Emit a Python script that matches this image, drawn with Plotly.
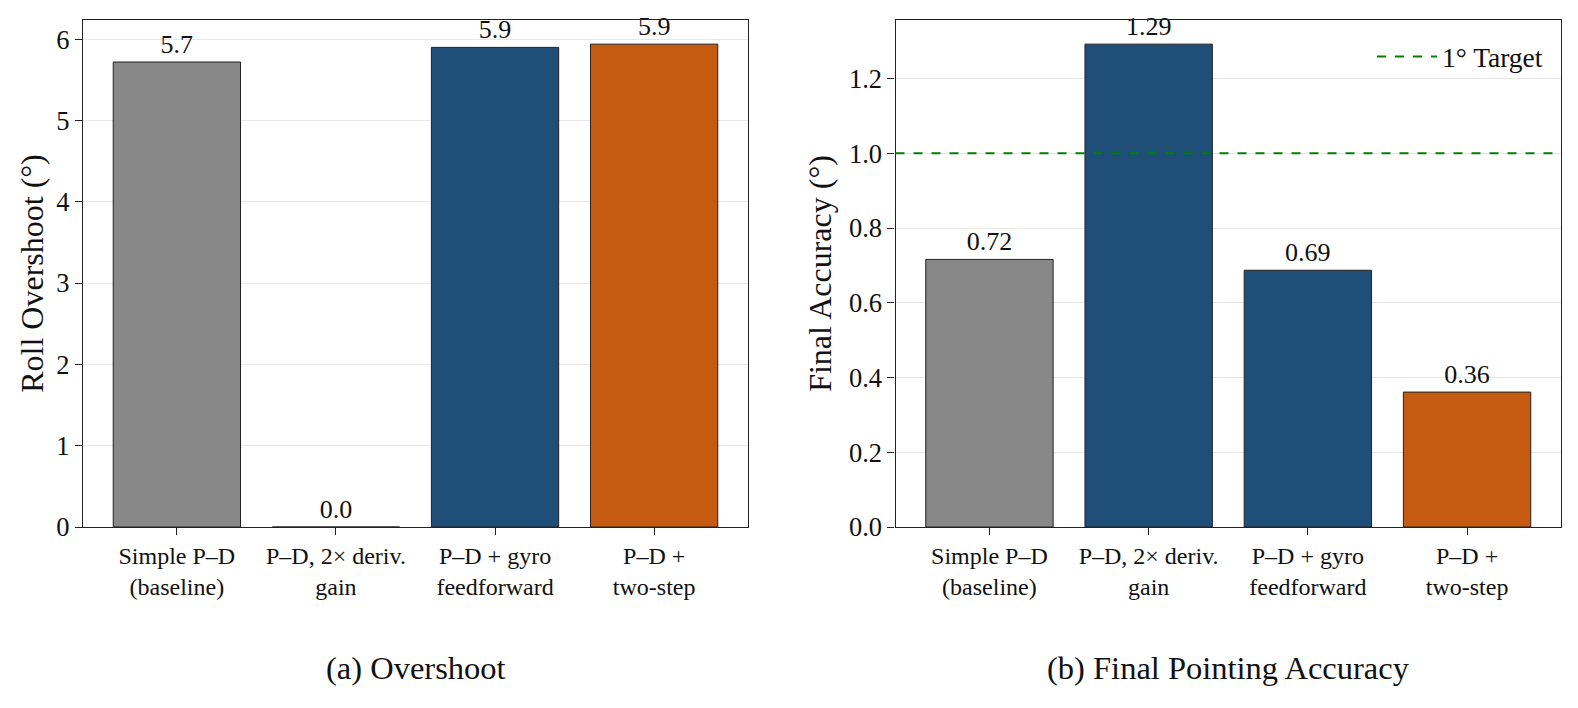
import plotly.graph_objects as go
from plotly.subplots import make_subplots

# Daten
methods = ["Simple P–D<br>(baseline)", "P–D, 2× deriv.<br>gain",
           "P–D + gyro<br>feedforward", "P–D +<br>two-step"]
overshoot = [5.72, 0.0, 5.90, 5.94]
overshoot_txt = ["5.7", "0.0", "5.9", "5.9"]
accuracy = [0.716, 1.292, 0.687, 0.361]
accuracy_txt = ["0.72", "1.29", "0.69", "0.36"]
target = 1.0

colors_a = ["#888888", "#1f4e79", "#1f4e79", "#c55a11"]
colors_b = ["#888888", "#1f4e79", "#1f4e79", "#c55a11"]

FONT = "Liberation Serif"
TXT = "#111111"
OFF = 8                     # Seitenrand des Browsers
W, H = 1578 - OFF, 708 - OFF


def px_x(p):
    return (p - OFF) / W


def px_y(p):
    return 1 - (p - OFF) / H


xpos = list(range(len(methods)))
pad = (len(methods) - 1 + 0.8) * 0.05
xrange_ = [-0.4 - pad, len(methods) - 1 + 0.4 + pad]

fig = make_subplots(rows=1, cols=2)

fig.add_trace(go.Bar(x=xpos, y=overshoot, width=0.8, text=overshoot_txt,
                     textposition="outside", cliponaxis=False,
                     textfont=dict(family=FONT, size=26, color=TXT),
                     marker=dict(color=colors_a, line=dict(color="#222222", width=1)),
                     showlegend=False), row=1, col=1)

fig.add_trace(go.Bar(x=xpos, y=accuracy, width=0.8, text=accuracy_txt,
                     textposition="outside", cliponaxis=False,
                     textfont=dict(family=FONT, size=26, color=TXT),
                     marker=dict(color=colors_b, line=dict(color="#222222", width=1)),
                     showlegend=False), row=1, col=2)

# Ziellinie 1°
fig.add_hline(y=target, line=dict(color="#008000", width=2, dash="dash"), row=1, col=2)
fig.add_trace(go.Scatter(x=[None], y=[None], mode="lines", name="1° Target",
                         line=dict(color="#008000", width=2, dash="dash")),
              row=1, col=2)

axis_common = dict(showline=True, linecolor="#222222", linewidth=1.3, mirror=True,
                   ticks="outside", ticklen=7, tickcolor="#222222", automargin=False,
                   zeroline=False)

fig.update_xaxes(**axis_common)
fig.update_xaxes(tickvals=xpos, ticktext=methods, range=xrange_, showgrid=False,
                 tickangle=0, tickfont=dict(family=FONT, size=24, color=TXT))
fig.update_yaxes(**axis_common)
fig.update_yaxes(showgrid=True, gridcolor="#e8e8e8", gridwidth=1,
                 tickfont=dict(family=FONT, size=26.5, color=TXT))

fig.update_xaxes(domain=[px_x(83), px_x(748)], row=1, col=1)
fig.update_xaxes(domain=[px_x(895.5), px_x(1561)], row=1, col=2)
fig.update_yaxes(domain=[px_y(527), px_y(20)])

fig.update_yaxes(range=[0, max(overshoot) * 1.05], dtick=1,
                 title=dict(text="Roll Overshoot (°)", standoff=3,
                            font=dict(family=FONT, size=32, color=TXT)),
                 row=1, col=1)
fig.update_yaxes(range=[0, max(accuracy) * 1.05], dtick=0.2, tickformat=".1f",
                 title=dict(text="Final Accuracy (°)", standoff=7,
                            font=dict(family=FONT, size=32, color=TXT)),
                 row=1, col=2)

fig.add_annotation(text="(a) Overshoot", x=px_x((83 + 748) / 2), y=px_y(668),
                   xref="paper", yref="paper", xanchor="center", yanchor="middle",
                   showarrow=False, font=dict(family=FONT, size=32.5, color=TXT))
fig.add_annotation(text="(b) Final Pointing Accuracy", x=px_x((895.5 + 1561) / 2),
                   y=px_y(668), xref="paper", yref="paper", xanchor="center",
                   yanchor="middle", showarrow=False,
                   font=dict(family=FONT, size=32.5, color=TXT))

fig.update_layout(
    width=W, height=H,
    margin=dict(l=0, r=0, t=0, b=0),
    plot_bgcolor="white", paper_bgcolor="white",
    font=dict(family=FONT, color=TXT),
    legend=dict(x=px_x(1548), xanchor="right", y=px_y(32), yanchor="top",
                bgcolor="rgba(255,255,255,0)", itemwidth=60,
                font=dict(family=FONT, size=27.5, color=TXT)),
)

fig.write_html("out.html")
